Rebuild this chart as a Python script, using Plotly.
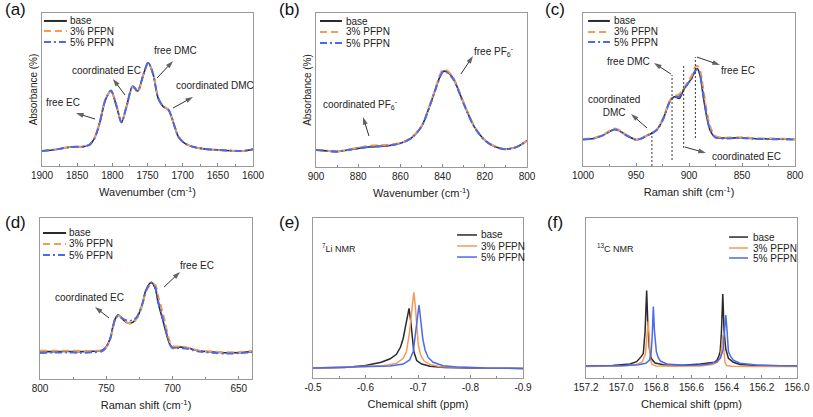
import plotly.graph_objects as go

W, H = 813, 417
FONT = "Liberation Sans, Arial, sans-serif"
C_BASE = "#2a2a2a"
C_P3 = "#F39C55"
C_P5 = "#4B69EE"
series_names = ["base", "3% PFPN", "5% PFPN"]

# ---------------- (a) FTIR C=O region ----------------
wn_a = [1900, 1880, 1860, 1840, 1832, 1826, 1822, 1817, 1810, 1802, 1794, 1787, 1780, 1771, 1764,
        1756, 1749, 1742, 1735, 1728, 1720, 1713, 1706, 1697, 1685, 1670, 1650, 1630, 1618, 1608, 1600]
base_a = [0.098, 0.108, 0.124, 0.128, 0.140, 0.175, 0.220, 0.300, 0.430, 0.492, 0.390, 0.285, 0.385, 0.523, 0.490,
          0.595, 0.675, 0.600, 0.445, 0.390, 0.366, 0.280, 0.190, 0.148, 0.125, 0.112, 0.105, 0.100, 0.098, 0.102, 0.110]
p3_a = [0.098, 0.108, 0.124, 0.128, 0.141, 0.176, 0.222, 0.302, 0.432, 0.490, 0.392, 0.287, 0.384, 0.518, 0.482,
        0.592, 0.672, 0.602, 0.447, 0.392, 0.367, 0.282, 0.192, 0.149, 0.124, 0.111, 0.104, 0.099, 0.097, 0.101, 0.109]
p5_a = [0.098, 0.108, 0.124, 0.128, 0.140, 0.175, 0.221, 0.301, 0.431, 0.493, 0.391, 0.285, 0.386, 0.522, 0.489,
        0.596, 0.678, 0.601, 0.446, 0.390, 0.366, 0.281, 0.190, 0.148, 0.125, 0.112, 0.105, 0.100, 0.098, 0.102, 0.110]

# ---------------- (b) FTIR PF6 region ----------------
wn_b = [900, 895, 890, 885, 880, 875, 870, 865, 860, 855, 850, 845, 842, 840, 838, 835, 830, 825, 820, 815, 810, 805, 800]
base_b = [0.110, 0.105, 0.100, 0.110, 0.121, 0.130, 0.134, 0.140, 0.154, 0.186, 0.262, 0.440, 0.560, 0.620, 0.618,
          0.576, 0.413, 0.262, 0.175, 0.132, 0.117, 0.130, 0.171]
p3_b = [0.110, 0.105, 0.101, 0.112, 0.126, 0.137, 0.142, 0.146, 0.156, 0.188, 0.266, 0.445, 0.568, 0.630, 0.628,
        0.582, 0.418, 0.265, 0.176, 0.132, 0.116, 0.129, 0.170]
p5_b = [0.110, 0.105, 0.100, 0.110, 0.121, 0.130, 0.134, 0.140, 0.154, 0.186, 0.262, 0.438, 0.556, 0.615, 0.614,
        0.572, 0.410, 0.260, 0.173, 0.130, 0.115, 0.129, 0.171]

# ---------------- (c) Raman 1000-800 ----------------
wn_c = [1000, 990, 980, 975, 970, 965, 960, 950, 945, 940, 935, 930, 924, 918, 914, 909, 905, 901,
        897.5, 894, 892, 889.5, 886.5, 883.3, 880.2, 875.5, 870, 860, 850, 840, 830, 820, 810, 800]
base_c = [0.174, 0.180, 0.205, 0.225, 0.240, 0.228, 0.205, 0.172, 0.180, 0.198, 0.214, 0.240, 0.315, 0.425, 0.452,
          0.442, 0.500, 0.540, 0.573, 0.626, 0.636, 0.590, 0.453, 0.322, 0.235, 0.188, 0.183, 0.183, 0.185, 0.180,
          0.178, 0.177, 0.176, 0.174]
p3_c = [0.176, 0.183, 0.209, 0.230, 0.245, 0.232, 0.208, 0.174, 0.181, 0.199, 0.216, 0.243, 0.320, 0.430, 0.458,
        0.470, 0.510, 0.550, 0.590, 0.648, 0.654, 0.625, 0.500, 0.360, 0.262, 0.198, 0.186, 0.186, 0.188, 0.183,
        0.180, 0.179, 0.178, 0.176]
p5_c = [0.173, 0.179, 0.204, 0.224, 0.238, 0.226, 0.203, 0.171, 0.179, 0.197, 0.213, 0.238, 0.312, 0.422, 0.452,
        0.455, 0.498, 0.538, 0.570, 0.622, 0.634, 0.595, 0.462, 0.330, 0.240, 0.188, 0.180, 0.181, 0.183, 0.178,
        0.176, 0.175, 0.174, 0.173]
vline_c_x = [935, 916, 905, 894]
vline_c_y0 = [0.0, 0.039, 0.118, 0.183]
vline_c_y1 = [0.222, 0.595, 0.660, 0.712]

# ---------------- (d) Raman 800-640 ----------------
wn_d = [800, 790, 780, 770, 760, 753, 750, 747, 745, 743, 741, 737, 733, 730, 727, 723, 720, 716, 713, 711,
        707, 704, 702, 700, 695, 690, 685, 680, 670, 660, 650, 640]
base_d = [0.170, 0.170, 0.171, 0.170, 0.172, 0.178, 0.201, 0.253, 0.325, 0.377, 0.398, 0.366, 0.346, 0.352, 0.377,
          0.460, 0.553, 0.600, 0.563, 0.480, 0.356, 0.263, 0.215, 0.195, 0.198, 0.196, 0.185, 0.175, 0.168, 0.163,
          0.164, 0.170]
p3_d = [0.175, 0.176, 0.176, 0.174, 0.175, 0.180, 0.196, 0.245, 0.318, 0.372, 0.394, 0.370, 0.346, 0.350, 0.374,
        0.452, 0.545, 0.592, 0.585, 0.520, 0.400, 0.290, 0.230, 0.205, 0.202, 0.198, 0.188, 0.176, 0.170, 0.166,
        0.166, 0.174]
p5_d = [0.162, 0.164, 0.165, 0.163, 0.166, 0.174, 0.198, 0.250, 0.322, 0.380, 0.392, 0.372, 0.362, 0.366, 0.385,
        0.458, 0.550, 0.598, 0.568, 0.490, 0.365, 0.268, 0.214, 0.192, 0.192, 0.190, 0.180, 0.170, 0.163, 0.158,
        0.160, 0.166]

# ---------------- (e) 7Li NMR ----------------
ppm_e_base = [-0.50, -0.56, -0.60, -0.63, -0.647, -0.659, -0.667, -0.672, -0.676, -0.680, -0.683, -0.686, -0.688,
              -0.690, -0.692, -0.6975, -0.707, -0.723, -0.75, -0.80, -0.90]
base_e = [0.062, 0.066, 0.078, 0.098, 0.120, 0.148, 0.195, 0.250, 0.320, 0.400, 0.435, 0.360, 0.290, 0.220, 0.165,
          0.109, 0.087, 0.073, 0.066, 0.063, 0.060]
ppm_e_p3 = [-0.50, -0.58, -0.634, -0.659, -0.672, -0.678, -0.684, -0.688, -0.690, -0.692, -0.6947, -0.6975,
            -0.7006, -0.705, -0.7115, -0.723, -0.742, -0.80, -0.90]
p3_e = [0.062, 0.071, 0.077, 0.092, 0.123, 0.165, 0.290, 0.415, 0.500, 0.535, 0.456, 0.310, 0.206, 0.144, 0.106,
        0.085, 0.071, 0.065, 0.060]
ppm_e_p5 = [-0.50, -0.60, -0.647, -0.672, -0.684, -0.691, -0.6955, -0.6987, -0.702, -0.705, -0.709, -0.7134,
            -0.7197, -0.729, -0.748, -0.774, -0.83, -0.90]
p5_e = [0.062, 0.069, 0.075, 0.087, 0.113, 0.165, 0.269, 0.373, 0.456, 0.373, 0.248, 0.175, 0.127, 0.098, 0.077,
        0.069, 0.062, 0.060]

# ---------------- (f) 13C NMR ----------------
ppm_f_base = [157.2, 157.05, 156.95, 156.912, 156.885, 156.874, 156.864, 156.855, 156.848, 156.840, 156.830,
              156.807, 156.76, 156.65, 156.55, 156.50, 156.47, 156.457, 156.445, 156.437, 156.430, 156.422,
              156.415, 156.405, 156.39, 156.362, 156.324, 156.25, 156.1, 156.0]
base_f = [0.075, 0.078, 0.088, 0.102, 0.135, 0.154, 0.290, 0.546, 0.330, 0.190, 0.123, 0.094, 0.083, 0.080, 0.088,
          0.094, 0.098, 0.108, 0.135, 0.165, 0.280, 0.525, 0.300, 0.180, 0.123, 0.098, 0.085, 0.079, 0.076, 0.075]
ppm_f_p3 = [157.2, 157.0, 156.92, 156.88, 156.862, 156.853, 156.846, 156.840, 156.834, 156.825, 156.80, 156.7,
            156.55, 156.48, 156.45, 156.435, 156.426, 156.420, 156.416, 156.41, 156.40, 156.37, 156.25, 156.0]
p3_f = [0.072, 0.075, 0.082, 0.100, 0.150, 0.270, 0.356, 0.250, 0.120, 0.085, 0.075, 0.073, 0.075, 0.085, 0.100,
        0.135, 0.220, 0.269, 0.180, 0.100, 0.078, 0.073, 0.072, 0.072]
ppm_f_p5 = [157.2, 157.0, 156.9, 156.86, 156.84, 156.83, 156.823, 156.817, 156.811, 156.80, 156.79, 156.777,
            156.74, 156.65, 156.55, 156.5, 156.46, 156.435, 156.42, 156.412, 156.405, 156.398, 156.39, 156.375,
            156.362, 156.324, 156.23, 156.1, 156.0]
p5_f = [0.075, 0.077, 0.083, 0.092, 0.110, 0.150, 0.270, 0.446, 0.300, 0.165, 0.130, 0.106, 0.088, 0.080, 0.082,
        0.088, 0.100, 0.125, 0.180, 0.290, 0.394, 0.300, 0.165, 0.130, 0.112, 0.092, 0.081, 0.077, 0.075]

# ---------------- ticks ----------------
ticks_a = [1900, 1850, 1800, 1750, 1700, 1650, 1600]
ticks_b = [900, 880, 860, 840, 820, 800]
ticks_c = [1000, 950, 900, 850, 800]
ticks_d = [800, 750, 700, 650]
ticks_e = [-0.5, -0.6, -0.7, -0.8, -0.9]
ticklabels_e = ["-0.5", "-0.6", "-0.7", "-0.8", "-0.9"]
ticks_f = [157.2, 157.0, 156.8, 156.6, 156.4, 156.2, 156.0]
ticklabels_f = ["157.2", "157.0", "156.8", "156.6", "156.4", "156.2", "156.0"]

# ---------------- annotation texts / arrows (data coords) ----------------
labels = [
    (1, "free EC", 1870, 0.418),
    (1, "coordinated EC", 1807.6, 0.627),
    (1, "free DMC", 1709.5, 0.752),
    (1, "coordinated DMC", 1654, 0.523),
    (2, "coordinated PF<sub>6</sub><sup>-</sup>", 879.1, 0.403),
    (2, "free PF<sub>6</sub><sup>-</sup>", 815.6, 0.753),
    (3, "coordinated<br>DMC", 970.8, 0.395),
    (3, "free DMC", 957.5, 0.680),
    (3, "free EC", 853.8, 0.621),
    (3, "coordinated EC", 846.2, 0.059),
    (4, "coordinated EC", 763, 0.509),
    (4, "free EC", 681.5, 0.708),
]
arrows = [
    (1, 1824.6, 0.307, 1851.7, 0.346),
    (1, 1782, 0.464, 1799.1, 0.569),
    (1, 1736.5, 0.575, 1713.7, 0.686),
    (1, 1713.7, 0.379, 1685.3, 0.451),
    (2, 874.9, 0.201, 877.7, 0.325),
    (2, 831.3, 0.604, 825.6, 0.721),
    (3, 939.6, 0.248, 954.7, 0.340),
    (3, 917, 0.601, 933, 0.673),
    (3, 892.5, 0.712, 870.8, 0.660),
    (3, 903.8, 0.124, 884, 0.085),
    (4, 747.9, 0.379, 758.5, 0.447),
    (4, 706.4, 0.571, 694.3, 0.665),
]

# ---------------- layout geometry (pixels) ----------------
boxes = {
    1: (42, 253, 13, 166),
    2: (316, 527, 13, 167),
    3: (583, 795, 13, 166),
    4: (40, 252, 218, 379),
    5: (313, 523, 218, 378),
    6: (586, 797, 218, 378),
}

fig = go.Figure()

def sfx(i):
    return "" if i == 1 else str(i)

dash_p3 = "7px,4px"
dash_p5 = "7px,3px,2px,3px"

def add_three(i, xs, ys, solid=False, shape="spline"):
    styles = [
        dict(color=C_BASE, width=1.6, dash="solid"),
        dict(color=C_P3, width=2.0, dash="solid" if solid else dash_p3),
        dict(color=C_P5, width=2.0, dash="solid" if solid else dash_p5),
    ]
    if solid:
        for s in styles:
            s["width"] = 1.5
    for k in range(3):
        ln = dict(styles[k])
        ln["shape"] = shape
        if shape == "spline":
            ln["smoothing"] = 0.8
        fig.add_trace(go.Scatter(x=xs[k], y=ys[k], mode="lines", line=ln, name=series_names[k],
                                 showlegend=False, xaxis="x" + sfx(i), yaxis="y" + sfx(i)))

add_three(1, [wn_a] * 3, [base_a, p3_a, p5_a])
add_three(2, [wn_b] * 3, [base_b, p3_b, p5_b])
add_three(3, [wn_c] * 3, [base_c, p3_c, p5_c])
add_three(4, [wn_d] * 3, [base_d, p3_d, p5_d])
add_three(5, [ppm_e_base, ppm_e_p3, ppm_e_p5], [base_e, p3_e, p5_e], solid=True, shape="linear")
add_three(6, [ppm_f_base, ppm_f_p3, ppm_f_p5], [base_f, p3_f, p5_f], solid=True, shape="linear")

for xv, y0, y1 in zip(vline_c_x, vline_c_y0, vline_c_y1):
    fig.add_trace(go.Scatter(x=[xv, xv], y=[y0, y1], mode="lines",
                             line=dict(color="#333", width=1, dash="2px,2px"),
                             showlegend=False, xaxis="x3", yaxis="y3", hoverinfo="skip"))

for (i, xt, yt, xh, yh) in arrows:
    fig.add_trace(go.Scatter(x=[xt, xh], y=[yt, yh], mode="lines+markers",
                             line=dict(color="#333", width=1),
                             marker=dict(symbol="arrow", size=[0, 8], color="#222", angleref="previous",
                                         line=dict(width=0)),
                             showlegend=False, xaxis="x" + sfx(i), yaxis="y" + sfx(i), hoverinfo="skip"))

def xaxis_cfg(i, rng, tv, tt, minor_dtick, title):
    x0, x1, y0, y1 = boxes[i]
    return dict(domain=[x0 / W, x1 / W], anchor="y" + sfx(i), range=rng, automargin=False,
                tickmode="array", tickvals=tv, ticktext=tt,
                ticks="inside", ticklen=3, tickcolor="#888", tickwidth=1,
                minor=dict(ticks="inside", ticklen=2, tickcolor="#888", dtick=minor_dtick, tick0=tv[0]),
                showline=True, linecolor="#9a9a9a", linewidth=1, mirror=True,
                showgrid=False, zeroline=False,
                tickfont=dict(family=FONT, size=10, color="#222"),
                title=dict(text=title, font=dict(family=FONT, size=11, color="#222"), standoff=8))

def yaxis_cfg(i, title=None):
    x0, x1, y0, y1 = boxes[i]
    d = dict(domain=[1 - y1 / H, 1 - y0 / H], anchor="x" + sfx(i), range=[0, 1], automargin=False,
             showticklabels=False, ticks="", showline=True, linecolor="#9a9a9a", linewidth=1,
             mirror=True, showgrid=False, zeroline=False)
    if title:
        d["title"] = dict(text=title, font=dict(family=FONT, size=10, color="#222"), standoff=1)
    return d

wn_title = "Wavenumber (cm<sup>-1</sup>)"
ram_title = "Raman shift (cm<sup>-1</sup>)"
cs_title = "Chemical shift (ppm)"

layout = dict(
    template="none",
    width=W, height=H, margin=dict(l=0, r=0, t=0, b=0, autoexpand=False),
    paper_bgcolor="white", plot_bgcolor="white", showlegend=False,
    font=dict(family=FONT, color="#222"),
    xaxis=xaxis_cfg(1, [1900, 1600], ticks_a, [str(v) for v in ticks_a], 25, wn_title),
    xaxis2=xaxis_cfg(2, [900, 800], ticks_b, [str(v) for v in ticks_b], 10, wn_title),
    xaxis3=xaxis_cfg(3, [1000, 800], ticks_c, [str(v) for v in ticks_c], 25, ram_title),
    xaxis4=xaxis_cfg(4, [800, 640], ticks_d, [str(v) for v in ticks_d], 25, ram_title),
    xaxis5=xaxis_cfg(5, [-0.5, -0.9], ticks_e, ticklabels_e, 0.05, cs_title),
    xaxis6=xaxis_cfg(6, [157.2, 156.0], ticks_f, ticklabels_f, 0.1, cs_title),
    yaxis=yaxis_cfg(1, "Absorbance (%)"),
    yaxis2=yaxis_cfg(2, "Absorbance (%)"),
    yaxis3=yaxis_cfg(3),
    yaxis4=yaxis_cfg(4),
    yaxis5=yaxis_cfg(5),
    yaxis6=yaxis_cfg(6),
)
fig.update_layout(**layout)

annotations = []
shapes = []

panel_labels = ["(a)", "(b)", "(c)", "(d)", "(e)", "(f)"]
panel_pos = [(3, 10), (277, 10), (543, 10), (3, 222), (277, 222), (545, 222)]
for lab, (px, py) in zip(panel_labels, panel_pos):
    annotations.append(dict(text=lab, x=px / W, y=1 - py / H, xref="paper", yref="paper",
                            xanchor="left", yanchor="middle", showarrow=False,
                            font=dict(family=FONT, size=17, color="#111")))

legend_geo = {
    1: (0.009, 0.118, 0.123, [0.948, 0.882, 0.810], False),
    2: (0.019, 0.123, 0.133, [0.948, 0.877, 0.805], False),
    3: (0.024, 0.127, 0.135, [0.948, 0.876, 0.810], False),
    4: (0.014, 0.123, 0.127, [0.907, 0.839, 0.770], False),
    5: (0.686, 0.781, 0.790, [0.894, 0.825, 0.756], True),
    6: (0.678, 0.768, 0.782, [0.881, 0.8125, 0.750], True),
}
for i, (lx0, lx1, tx, rows, solid) in legend_geo.items():
    xr = "x" + sfx(i) + " domain"
    yr = "y" + sfx(i) + " domain"
    cols = [C_BASE, C_P3, C_P5]
    dashes = ["solid", "solid" if solid else dash_p3, "solid" if solid else dash_p5]
    widths = [2.0, 2.0, 2.0] if not solid else [1.5, 1.5, 1.5]
    for k in range(3):
        shapes.append(dict(type="line", xref=xr, yref=yr, x0=lx0, x1=lx1, y0=rows[k], y1=rows[k],
                           line=dict(color=cols[k], width=widths[k], dash=dashes[k])))
        annotations.append(dict(text=series_names[k], xref=xr, yref=yr, x=tx, y=rows[k],
                                xanchor="left", yanchor="middle", showarrow=False,
                                font=dict(family=FONT, size=10, color="#222")))

for (i, text, x, y) in labels:
    annotations.append(dict(text=text, x=x, y=y, xref="x" + sfx(i), yref="y" + sfx(i),
                            xanchor="center", yanchor="middle", showarrow=False,
                            font=dict(family=FONT, size=10, color="#222")))

annotations.append(dict(text="<sup>7</sup>Li NMR", x=-0.513, y=0.8125, xref="x5", yref="y5",
                        xanchor="left", yanchor="middle", showarrow=False,
                        font=dict(family=FONT, size=9, color="#222")))
annotations.append(dict(text="<sup>13</sup>C NMR", x=157.149, y=0.8125, xref="x6", yref="y6",
                        xanchor="left", yanchor="middle", showarrow=False,
                        font=dict(family=FONT, size=9, color="#222")))

fig.update_layout(annotations=annotations, shapes=shapes)
fig.write_html("out.html",
               config={"displayModeBar": False},
               post_script="document.body.style.margin='0';document.body.style.padding='0';"
                           "document.body.style.overflow='hidden';")
